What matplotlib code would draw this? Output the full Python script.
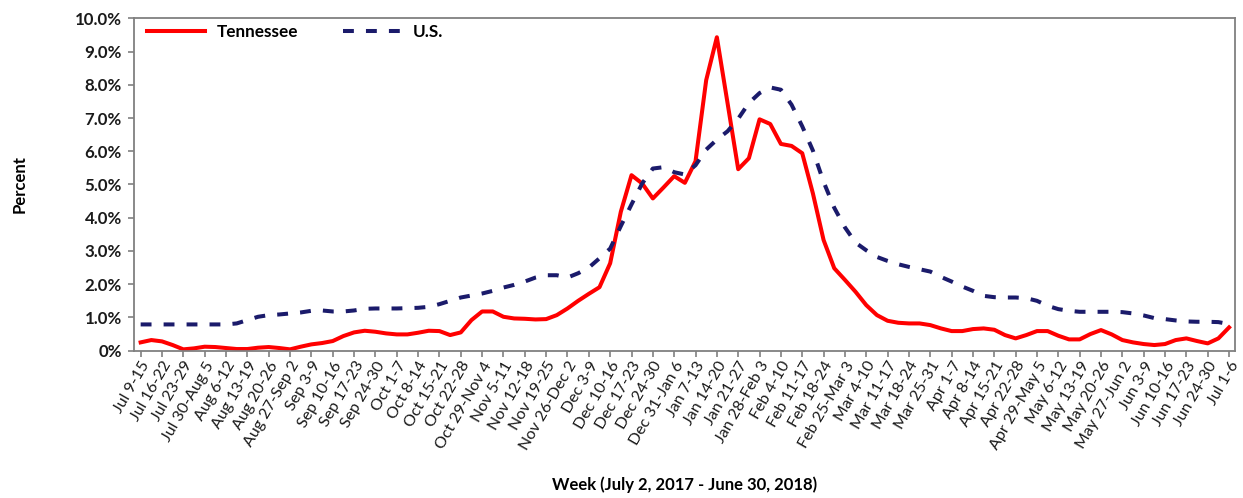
import numpy as np
import matplotlib
matplotlib.use('Agg')
import matplotlib.pyplot as plt

# Semanas (rótulos do eixo x)
semanas = ['Jul 9-15', 'Jul 16-22', 'Jul 23-29', 'Jul 30-Aug 5', 'Aug 6-12', 'Aug 13-19',
           'Aug 20-26', 'Aug 27-Sep 2', 'Sep 3-9', 'Sep 10-16', 'Sep 17-23', 'Sep 24-30',
           'Oct 1-7', 'Oct 8-14', 'Oct 15-21', 'Oct 22-28', 'Oct 29-Nov 4', 'Nov 5-11',
           'Nov 12-18', 'Nov 19-25', 'Nov 26-Dec 2', 'Dec 3-9', 'Dec 10-16', 'Dec 17-23',
           'Dec 24-30', 'Dec 31-Jan 6', 'Jan 7-13', 'Jan 14-20', 'Jan 21-27', 'Jan 28-Feb 3',
           'Feb 4-10', 'Feb 11-17', 'Feb 18-24', 'Feb 25-Mar 3', 'Mar 4-10', 'Mar 11-17',
           'Mar 18-24', 'Mar 25-31', 'Apr 1-7', 'Apr 8-14', 'Apr 15-21', 'Apr 22-28',
           'Apr 29-May 5', 'May 6-12', 'May 13-19', 'May 20-26', 'May 27-Jun 2', 'Jun 3-9',
           'Jun 10-16', 'Jun 17-23', 'Jun 24-30', 'Jul 1-6']

# Valores a cada meia semana (percentual)
tennessee = [0.25, 0.32, 0.28, 0.17, 0.04, 0.07, 0.12, 0.11, 0.08, 0.05,
             0.05, 0.09, 0.11, 0.08, 0.04, 0.12, 0.19, 0.23, 0.29, 0.44,
             0.55, 0.60, 0.57, 0.52, 0.49, 0.49, 0.54, 0.60, 0.59, 0.47,
             0.55, 0.92, 1.18, 1.18, 1.02, 0.97, 0.96, 0.94, 0.95, 1.07,
             1.27, 1.50, 1.71, 1.91, 2.63, 4.18, 5.28, 5.03, 4.58, 4.91,
             5.25, 5.05, 5.70, 8.14, 9.43, 7.45, 5.46, 5.79, 6.96, 6.82,
             6.22, 6.16, 5.94, 4.73, 3.33, 2.48, 2.13, 1.77, 1.37, 1.07,
             0.90, 0.84, 0.82, 0.82, 0.77, 0.67, 0.59, 0.59, 0.65, 0.67,
             0.63, 0.47, 0.37, 0.47, 0.59, 0.59, 0.45, 0.34, 0.34, 0.50,
             0.62, 0.49, 0.32, 0.25, 0.20, 0.17, 0.20, 0.32, 0.37, 0.29,
             0.22, 0.37, 0.70]

us = [0.79, 0.79, 0.79, 0.79, 0.79, 0.79, 0.79, 0.79, 0.79, 0.82,
      0.92, 1.02, 1.07, 1.09, 1.12, 1.15, 1.20, 1.21, 1.18, 1.18,
      1.21, 1.26, 1.27, 1.27, 1.27, 1.28, 1.29, 1.32, 1.40, 1.50,
      1.60, 1.66, 1.72, 1.80, 1.90, 1.98, 2.08, 2.20, 2.27, 2.27,
      2.20, 2.33, 2.50, 2.78, 3.07, 3.75, 4.40, 5.03, 5.48, 5.52,
      5.37, 5.30, 5.58, 6.05, 6.35, 6.60, 6.98, 7.45, 7.75, 7.92,
      7.85, 7.40, 6.75, 6.02, 5.08, 4.30, 3.71, 3.25, 3.02, 2.82,
      2.70, 2.60, 2.52, 2.45, 2.38, 2.22, 2.08, 1.93, 1.80, 1.65,
      1.61, 1.60, 1.60, 1.58, 1.50, 1.35, 1.25, 1.20, 1.17, 1.17,
      1.17, 1.17, 1.16, 1.12, 1.06, 0.98, 0.95, 0.91, 0.88, 0.87,
      0.87, 0.86, 0.80]

x = np.arange(len(tennessee)) / 2

plt.rcParams['font.family'] = ['Lato', 'DejaVu Sans']

fig = plt.figure(figsize=(12.43, 4.98), dpi=100)
ax = fig.add_axes([0.108, 0.2958, 0.8856, 0.6675])

ax.plot(x, tennessee, color='#ff0000', lw=2.9, label='Tennessee', solid_joinstyle='round')
linha_us, = ax.plot(x, us, color='#1b1b6b', lw=2.9, label='U.S.')
linha_us.set_dashes([2.7, 3.0])

ax.set_xlim(-0.3, 51.28)
ax.set_ylim(0, 10)
ax.set_yticks(np.arange(0, 11, 1))
ax.set_yticklabels(['0%'] + [f'{v:.1f}%' for v in range(1, 11)], fontsize=12.2, fontweight='bold')
ax.set_xticks(np.arange(len(semanas)))
ax.set_xticklabels(semanas, rotation=60, ha='right', rotation_mode='anchor', fontsize=11.5)

for s in ax.spines.values():
    s.set_color('#808080')
    s.set_linewidth(1.3)
ax.tick_params(axis='both', direction='out', length=4, width=1.2, color='#808080', labelcolor='#1a1a1a')
ax.tick_params(axis='y', pad=5)
ax.tick_params(axis='x', pad=2)

ax.set_ylabel('Percent', fontsize=12, fontweight='bold')
ax.yaxis.set_label_coords(-0.097, 0.5)
fig.text(0.551, 0.026, 'Week (July 2, 2017 - June 30, 2018)', fontsize=12, fontweight='bold',
         ha='center', va='center')

leg = ax.legend(loc='center left', bbox_to_anchor=(0.0115, 0.9588), ncol=2, frameon=False,
                borderpad=0, borderaxespad=0, handlelength=3.4, handletextpad=0.7,
                columnspacing=2.6, prop={'weight': 'bold', 'size': 12.3})

fig.savefig('out.png', dpi=100)
